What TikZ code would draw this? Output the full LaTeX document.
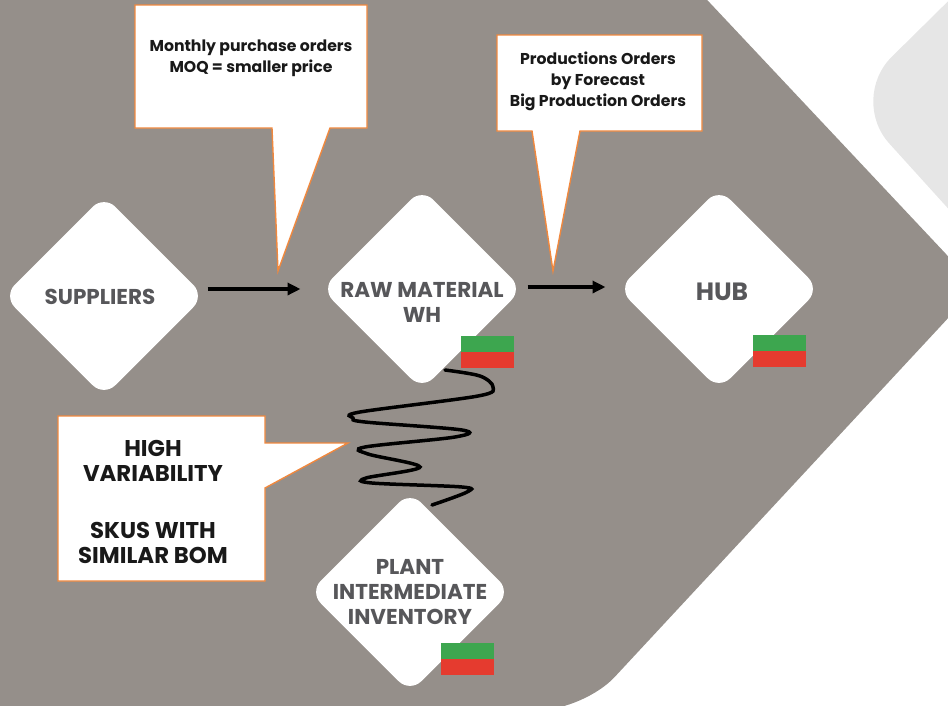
\documentclass[tikz,border=0pt]{standalone}
\usepackage{fontspec}
\setmainfont{Poppins}
\usepackage{xcolor}
\usetikzlibrary{shapes.geometric,arrows.meta}
\definecolor{bggrey}{HTML}{958F8A}
\definecolor{palegrey}{HTML}{E6E6E6}
\definecolor{noteorange}{HTML}{F0883E}
\definecolor{sitegrey}{HTML}{57575A}
\definecolor{flaggreen}{HTML}{3DA64F}
\definecolor{flagred}{HTML}{E53B2F}

\begin{document}
\begin{tikzpicture}[x=1pt,y=-1pt,
    site/.style={shape=diamond, fill=white, rounded corners=16pt, minimum width=201pt,
      minimum height=201pt, inner sep=0pt, outer sep=0pt},
    sitetext/.style={text=sitegrey, font=\bfseries\fontsize{21.5}{25}\selectfont, align=center},
    note/.style={draw=noteorange, line width=1.4pt, fill=white},
    notetext/.style={text=black!90, font=\bfseries\fontsize{15.7}{21}\selectfont, align=center},
    bignote/.style={text=black!90, font=\bfseries\fontsize{22.8}{25}\selectfont, align=center},
    flow/.style={line width=3.5pt, -{Triangle[length=13pt,width=12pt]}},
    coil/.style={line width=3.5pt, line cap=round}]
    \clip (0,0) rectangle (948,705);
    % background chevrons
    \fill[bggrey, rounded corners=45pt] (-30,-30) -- (679,-30) -- (977,287) -- (584,710) -- (-30,710) -- cycle;
    \fill[palegrey, rounded corners=60pt] (1000,-50) -- (849,99) -- (1040,310) -- cycle;

    % callouts
    \draw[note] (135,5) -- (367,5) -- (367,128) -- (330,128) -- (278,271) -- (272,128) -- (135,128) -- cycle;
    \draw[note] (497,35) -- (702,35) -- (702,131) -- (580,131) -- (553,271) -- (532,131) -- (497,131) -- cycle;
    \draw[note] (58,416) -- (265,416) -- (265,443) -- (348,443) -- (265,488) -- (265,581) -- (58,581) -- cycle;
    \node[notetext] (moq) at (251,58) {Monthly purchase orders\\MOQ = smaller price};
    \node[notetext] (forecast) at (598,81) {Productions Orders\\by Forecast\\Big Production Orders};
    \node[bignote] (variab) at (153,502) {HIGH\\VARIABILITY\\[32pt]SKUS WITH\\SIMILAR BOM};

    % sites
    \node[site] (sup) at (104,296) {};
    \node[site] (raw) at (422,289) {};
    \node[site] (hub) at (719,289) {};
    \node[site] (plant) at (410,592) {};
    \node[sitetext] (suplabel) at (100,297) {SUPPLIERS};
    \node[sitetext] (rawlabel) at (422,302) {RAW MATERIAL\\WH};
    \node[sitetext, font=\bfseries\fontsize{25}{25}\selectfont] (hublabel) at (722,292) {HUB};
    \node[sitetext] (plantlabel) at (plant) {PLANT\\INTERMEDIATE\\INVENTORY};

    % stock flags
    \foreach \fx/\fy in {461/336, 753/335, 441/643} {
      \fill[flaggreen] (\fx,\fy) rectangle ++(53,16);
      \fill[flagred] (\fx,\fy+16) rectangle ++(53,16);
    }

    \draw[flow, shorten <=3pt, shorten >=21pt] (sup.east |- raw.center) -- (raw.west);
    \draw[flow, shorten <=5pt, shorten >=13pt] ([yshift=2pt]raw.east) -- ([yshift=2pt]hub.west);
    \draw[coil] plot[smooth, tension=0.55] coordinates {(445,370) (480,376) (493,387) (478,396)
      (360,412) (353,418) (365,422) (462,430) (455,437) (365,447) (368,454) (420,467)
      (366,478) (372,483) (462,487) (467,492) (432,505)};
\end{tikzpicture}
\end{document}
